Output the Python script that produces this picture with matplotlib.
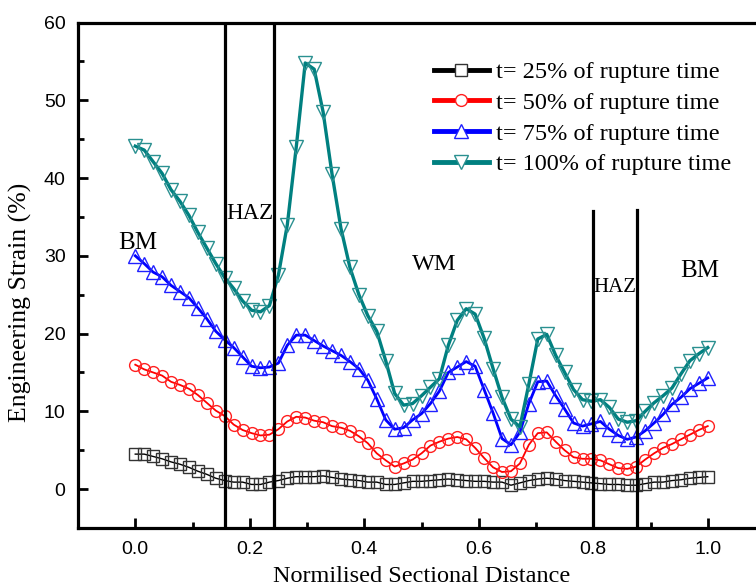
import matplotlib
matplotlib.use("Agg")
import matplotlib.pyplot as plt
from matplotlib.lines import Line2D
from matplotlib.ticker import MultipleLocator

# ---- data ----
distance = [i / 64 for i in range(65)]

strain_25 = [4.5, 4.5, 4.2, 3.9, 3.5, 3.2, 2.8, 2.3, 1.9, 1.4, 1.1, 0.9, 0.9, 0.6, 0.6, 0.9,
             1.1, 1.4, 1.6, 1.6, 1.6, 1.7, 1.5, 1.3, 1.2, 1.1, 0.9, 0.9, 0.6, 0.6, 0.8, 1.0,
             1.0, 1.1, 1.2, 1.3, 1.2, 1.1, 1.0, 1.0, 0.9, 0.9, 0.5, 0.8, 1.1, 1.3, 1.4, 1.3,
             1.1, 1.0, 0.9, 0.8, 0.7, 0.6, 0.6, 0.5, 0.5, 0.7, 0.9, 0.9, 1.1, 1.2, 1.4, 1.5,
             1.6]
strain_50 = [16.0, 15.4, 15.0, 14.6, 13.8, 13.4, 12.9, 12.1, 11.1, 10.1, 9.4, 8.3, 7.6, 7.2, 6.9, 7.0,
             7.7, 8.7, 9.3, 9.2, 8.8, 8.6, 8.1, 7.9, 7.5, 6.8, 5.9, 4.6, 3.7, 2.9, 3.3, 3.8,
             4.6, 5.6, 6.1, 6.5, 6.7, 6.4, 5.3, 4.0, 2.8, 2.2, 2.3, 3.3, 5.7, 7.2, 7.3, 6.1,
             5.0, 4.1, 3.9, 3.9, 3.7, 3.2, 2.7, 2.6, 2.9, 3.8, 4.6, 5.3, 5.8, 6.4, 7.0, 7.6,
             8.1]
strain_75 = [30.0, 29.0, 27.9, 27.3, 26.2, 25.4, 24.6, 23.3, 21.9, 20.3, 19.2, 18.2, 17.0, 15.8, 15.6, 15.7,
             16.2, 18.5, 19.8, 19.8, 19.1, 18.4, 17.8, 17.2, 16.4, 15.5, 14.0, 11.6, 8.9, 7.7, 7.9, 8.9,
             9.7, 11.0, 12.6, 15.0, 15.7, 16.4, 15.8, 12.8, 9.8, 6.5, 5.7, 7.3, 11.0, 13.8, 13.9, 12.0,
             10.3, 8.5, 8.1, 8.4, 8.7, 7.7, 6.9, 6.4, 6.7, 7.5, 8.5, 9.6, 10.9, 11.8, 12.9, 13.6,
             14.3]
strain_100 = [44.1, 43.6, 42.1, 40.6, 38.5, 37.0, 35.2, 33.0, 31.0, 29.0, 27.2, 25.8, 24.2, 23.0, 22.8, 23.6,
              27.5, 34.0, 44.0, 54.8, 54.0, 48.5, 40.5, 33.5, 28.5, 25.0, 22.3, 20.3, 16.5, 12.3, 10.8, 11.0,
              12.0, 13.1, 14.2, 18.5, 21.7, 23.2, 22.5, 19.4, 15.5, 11.8, 9.0, 8.0, 13.5, 19.3, 19.9, 17.2,
              15.0, 12.8, 11.5, 11.3, 11.5, 10.5, 9.0, 8.6, 8.8, 10.0, 11.1, 12.0, 13.0, 14.8, 16.5, 17.4,
              18.2]

series_labels = ["t= 25% of rupture time", "t= 50% of rupture time",
                 "t= 75% of rupture time", "t= 100% of rupture time"]
zone_lines = [0.157, 0.2425, 0.799, 0.876]
zone_labels = ["BM", "HAZ", "WM", "HAZ", "BM"]

# ---- style ----
serif = ["Liberation Serif", "DejaVu Serif"]
sans = ["Liberation Sans", "DejaVu Sans"]
plt.rcParams["font.family"] = sans

fig = plt.figure(figsize=(7.56, 5.86), dpi=100)
ax = fig.add_axes([78 / 756, 58 / 586, 687 / 756, (528 - 22.5) / 586])

colors = ["black", "#ff0000", "#0000ff", "#008080"]
edge_colors = ["#333333", "#ff2020", "#2020ff", "#2a9090"]
markers = ["s", "o", "^", "v"]
msizes = [8.5, 8.5, 9.5, 10]
lws = [1.0, 1.3, 2.0, 2.4]
data = [strain_25, strain_50, strain_75, strain_100]

for y, c, ec, m, ms, lw in zip(data, colors, edge_colors, markers, msizes, lws):
    ax.plot(distance, y, color=c, lw=lw, marker=m, ms=ms, mfc="none", mec=ec, mew=1.0)

# zone boundaries
ax.axvline(zone_lines[0], color="black", lw=2.3)
ax.axvline(zone_lines[1], color="black", lw=2.3)
ax.plot([zone_lines[2]] * 2, [-5, 35.7], color="black", lw=2.3)
ax.plot([zone_lines[3]] * 2, [-5, 35.9], color="black", lw=2.3)

txt_pos = [(0.004, 31.6, 18), (0.2, 35.5, 16.5), (0.523, 28.9, 17.5), (0.838, 25.9, 15), (0.986, 28.0, 18)]
for lab, (x, y, fs) in zip(zone_labels, txt_pos):
    ax.text(x, y, lab, ha="center", va="center", fontsize=fs, family=serif)

ax.set_xlim(-0.1, 1.1)
ax.set_ylim(-5, 60)
ax.xaxis.set_minor_locator(MultipleLocator(0.1))
ax.yaxis.set_minor_locator(MultipleLocator(5))
ax.set_xticks([0.0, 0.2, 0.4, 0.6, 0.8, 1.0])
ax.set_yticks([0, 10, 20, 30, 40, 50, 60])
ax.tick_params(which="both", direction="in", width=2.0, labelsize=14)
ax.tick_params(which="major", length=7, pad=9)
ax.tick_params(which="minor", length=4)
for s in ax.spines.values():
    s.set_linewidth(2.3)

ax.set_xlabel("Normilised Sectional Distance", fontsize=17.5, family=serif)
ax.xaxis.set_label_coords(0.5, (528 - 566) / 505.5)
ax.set_ylabel("Engineering Strain (%)", fontsize=18.5, family=serif)
ax.yaxis.set_label_coords(-(78 - 32) / 687, (528 - 302) / 505.5)

handles = [Line2D([], [], color=c, lw=3.5, marker=m, ms=ms, mfc="white", mec=ec, mew=1.0)
           for c, ec, m, ms in zip(colors, edge_colors, markers, msizes)]
leg = fig.legend(handles, series_labels, loc="upper left",
                 bbox_to_anchor=(434 / 756, 1 - 61 / 586), frameon=False,
                 prop={"family": serif, "size": 17.5}, handlelength=2.26, handletextpad=0.28,
                 labelspacing=0.36, borderpad=0, borderaxespad=0)

fig.savefig("out.png", dpi=100)
